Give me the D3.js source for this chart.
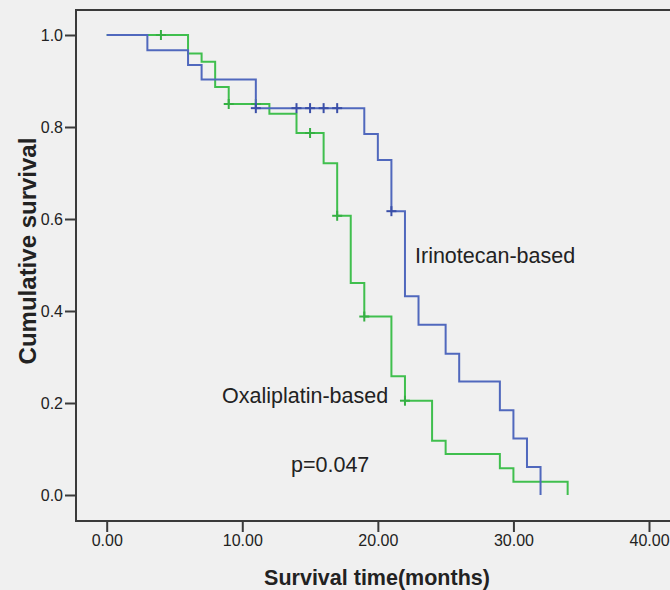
<!DOCTYPE html>
<html>
<head>
<meta charset="utf-8">
<script src="https://cdn.jsdelivr.net/npm/d3@7"></script>
<style>
  html, body { margin: 0; padding: 0; background: #f0f0f0; }
  svg { display: block; }
  text { font-family: "Liberation Sans", Arial, sans-serif; fill: #222; }
</style>
</head>
<body>
<svg id="chart" width="670" height="590"></svg>
<script>
// ---- data ----
const irinoTimes = [0, 3, 6, 7, 11, 19, 20, 21, 22, 23, 25, 26, 29, 30, 31, 32];
const irinoSurv  = [1, 0.967, 0.935, 0.903, 0.841, 0.785, 0.728, 0.617, 0.432, 0.370, 0.307, 0.247, 0.184, 0.123, 0.061, 0];
const irinoCensorTimes = [11, 14, 15, 16, 17, 21];

const oxaliTimes = [0, 6, 7, 8, 9, 12, 14, 16, 17, 18, 19, 21, 22, 24, 25, 29, 30, 34];
const oxaliSurv  = [1, 0.960, 0.942, 0.887, 0.850, 0.829, 0.787, 0.721, 0.607, 0.461, 0.388, 0.258, 0.205, 0.118, 0.089, 0.058, 0.029, 0];
const oxaliCensorTimes = [4, 9, 11, 15, 17, 19, 22];

const xTickValues = [0, 10, 20, 30, 40];
const yTickValues = [0, 0.2, 0.4, 0.6, 0.8, 1.0];

const seriesNames = ["Irinotecan-based", "Oxaliplatin-based"];
const pValueLabel = "p=0.047";
const xTitle = "Survival time(months)";
const yTitle = "Cumulative survival";

// ---- layout ----
const svg = d3.select("#chart");
const frame = { left: 76, top: 10, right: 690, bottom: 521 };
const x = d3.scaleLinear().domain([0, 40]).range([106.7, 649]);
const y = d3.scaleLinear().domain([0, 1]).range([495, 35]);

const blue = "#5068bd";
const green = "#40bf4e";

svg.append("rect").attr("width", 670).attr("height", 590).attr("fill", "#f0f0f0");

// plot frame
svg.append("rect")
  .attr("x", frame.left).attr("y", frame.top)
  .attr("width", frame.right - frame.left).attr("height", frame.bottom - frame.top)
  .attr("fill", "#f0f0f0").attr("stroke", "#3a3a3a").attr("stroke-width", 2);

// axes
const xAxis = d3.axisBottom(x).tickValues(xTickValues).tickFormat(d3.format(".2f"))
  .tickSize(11).tickSizeOuter(0).tickPadding(3);
const gx = svg.append("g").attr("transform", `translate(0,${frame.bottom})`).call(xAxis);
gx.select(".domain").remove();
gx.selectAll(".tick line").attr("stroke", "#3a3a3a").attr("stroke-width", 2);
gx.selectAll(".tick text").attr("font-size", 16).attr("fill", "#222")
  .attr("font-family", "Liberation Sans, Arial, sans-serif");

const yAxis = d3.axisLeft(y).tickValues(yTickValues).tickFormat(d3.format(".1f"))
  .tickSize(11).tickSizeOuter(0).tickPadding(2);
const gy = svg.append("g").attr("transform", `translate(${frame.left},0)`).call(yAxis);
gy.select(".domain").remove();
gy.selectAll(".tick line").attr("stroke", "#3a3a3a").attr("stroke-width", 2);
gy.selectAll(".tick text").attr("font-size", 16).attr("fill", "#222")
  .attr("font-family", "Liberation Sans, Arial, sans-serif");

// survival step curves
const line = d3.line().x(d => x(d[0])).y(d => y(d[1])).curve(d3.curveStepAfter);
function survAt(times, surv, t) {
  let v = surv[0];
  for (let i = 0; i < times.length; i++) if (times[i] <= t) v = surv[i];
  return v;
}
const series = [
  { times: irinoTimes, surv: irinoSurv, cens: irinoCensorTimes, color: blue, mark: "#3a4fa8" },
  { times: oxaliTimes, surv: oxaliSurv, cens: oxaliCensorTimes, color: green, mark: "#35b043" }
];
// draw green first then blue to mimic overlap
[series[1], series[0]].forEach(s => {
  const pts = s.times.map((t, i) => [t, s.surv[i]]);
  svg.append("path").datum(pts).attr("d", line)
    .attr("fill", "none").attr("stroke", s.color).attr("stroke-width", 2);
  const g = svg.append("g");
  s.cens.forEach(t => {
    const cx = x(t), cy = y(survAt(s.times, s.surv, t));
    g.append("line").attr("x1", cx).attr("x2", cx).attr("y1", cy - 5).attr("y2", cy + 5)
      .attr("stroke", s.mark).attr("stroke-width", 2);
    g.append("line").attr("x1", cx - 5).attr("x2", cx + 5).attr("y1", cy).attr("y2", cy)
      .attr("stroke", s.mark).attr("stroke-width", 2);
  });
});

// annotations
svg.append("text").attr("x", 415).attr("y", 263).attr("font-size", 21.5).text(seriesNames[0]);
svg.append("text").attr("x", 222).attr("y", 403).attr("font-size", 21.5).text(seriesNames[1]);
svg.append("text").attr("x", 291).attr("y", 472).attr("font-size", 21.5).text(pValueLabel);

// axis titles
svg.append("text").attr("x", 377).attr("y", 585).attr("text-anchor", "middle")
  .attr("font-size", 21.5).attr("font-weight", "bold").text(xTitle);
svg.append("text").attr("transform", "translate(36,251) rotate(-90)").attr("text-anchor", "middle")
  .attr("font-size", 24).attr("font-weight", "bold").text(yTitle);
</script>
</body>
</html>
